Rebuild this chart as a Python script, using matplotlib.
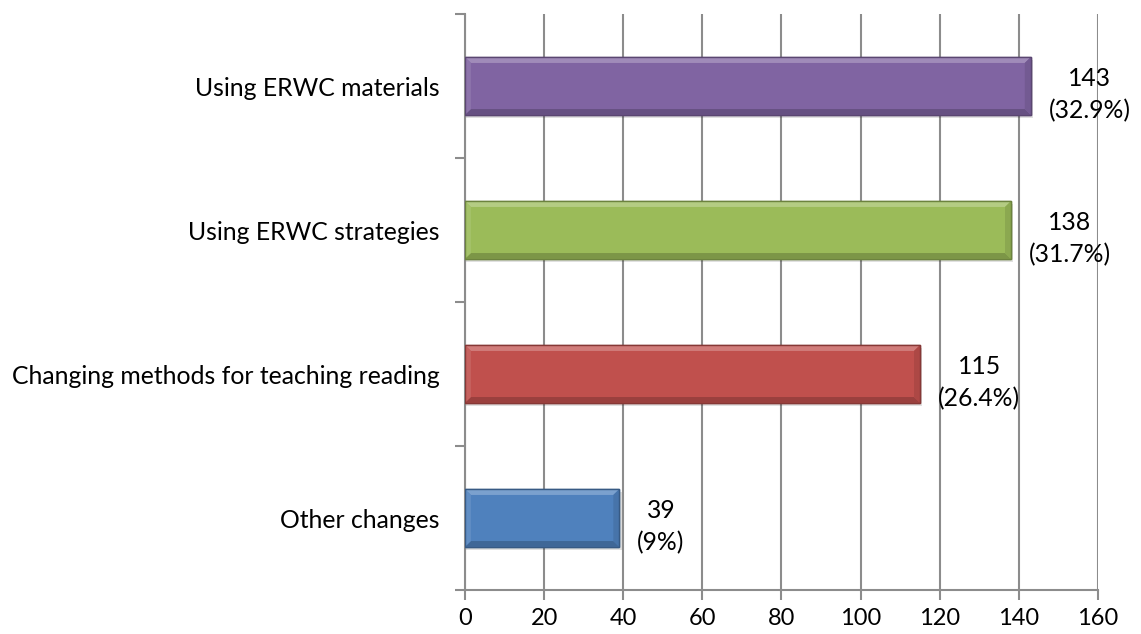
import matplotlib.pyplot as plt
from matplotlib.patches import Polygon, Rectangle
import matplotlib.colors as mcolors

categories = ["Other changes", "Changing methods for teaching reading",
              "Using ERWC strategies", "Using ERWC materials"]
counts = [39, 115, 138, 143]
percents = ["9%", "26.4%", "31.7%", "32.9%"]
colors = ["#4F81BD", "#C0504D", "#9BBB59", "#8064A2"]
xticks = [0, 20, 40, 60, 80, 100, 120, 140, 160]

plt.rcParams['font.family'] = ['Lato', 'DejaVu Sans']

fig = plt.figure(figsize=(11.41, 6.34), dpi=100)
ax = fig.add_axes([0.4075, 0.0694, 0.5548, 0.9085])

bar_h = 0.4
grid_c = "#8C8C8C"
fs = 17.8


def shade(c, f):
    r, g, b = mcolors.to_rgb(c)
    if f > 0:
        return (r + (1 - r) * f, g + (1 - g) * f, b + (1 - b) * f)
    return (r * (1 + f), g * (1 + f), b * (1 + f))


for i, (v, c) in enumerate(zip(counts, colors)):
    y0 = i - bar_h / 2
    y1 = i + bar_h / 2
    dx = 1.5
    dy = 0.04
    # shadow
    ax.add_patch(Rectangle((0, y0 - 0.02), v + 0.6, bar_h, color="#000000",
                           alpha=0.12, zorder=2, lw=0))
    ax.add_patch(Rectangle((0, y0), v, bar_h, facecolor=c,
                           edgecolor=shade(c, -0.3), lw=1.0, zorder=3))
    # bevel edges
    ax.add_patch(Polygon([(0, y1), (v, y1), (v - dx, y1 - dy), (dx, y1 - dy)],
                         closed=True, color=shade(c, 0.25), lw=0, zorder=4))
    ax.add_patch(Polygon([(0, y0), (v, y0), (v - dx, y0 + dy), (dx, y0 + dy)],
                         closed=True, color=shade(c, -0.2), lw=0, zorder=4))
    ax.add_patch(Polygon([(v, y0), (v, y1), (v - dx, y1 - dy), (v - dx, y0 + dy)],
                         closed=True, color=shade(c, -0.1), lw=0, zorder=4))
    ax.add_patch(Polygon([(0, y0), (0, y1), (dx, y1 - dy), (dx, y0 + dy)],
                         closed=True, color=shade(c, 0.1), lw=0, zorder=4))
    ax.add_patch(Rectangle((0, y0), v, bar_h, facecolor="none",
                           edgecolor=shade(c, -0.3), lw=1.0, zorder=5))
    ax.annotate("%d\n(%s)" % (v, percents[i]), xy=(v, i), xytext=(13, -6),
                textcoords="offset points", ha="left", va="center",
                multialignment="center", fontsize=fs, color="#000000",
                zorder=6, linespacing=1.45)

ax.set_xlim(0, 160)
ax.set_ylim(-0.5, 3.5)
ax.set_xticks(xticks)
ax.set_yticks([i - 0.5 for i in range(5)])
ax.set_yticklabels([])
ax.set_yticks(range(4), minor=True)
ax.set_yticklabels(categories, minor=True)
ax.tick_params(axis="y", which="minor", length=0, pad=18, labelsize=fs)
ax.tick_params(axis="y", which="major", length=7, width=1.5, color=grid_c)
ax.tick_params(axis="x", length=7, width=1.5, color=grid_c, pad=6,
               labelsize=17)
ax.xaxis.grid(True, color=grid_c, lw=1.5)
ax.set_axisbelow(True)
for s in ["top", "right"]:
    ax.spines[s].set_visible(False)
for s in ["left", "bottom"]:
    ax.spines[s].set_color(grid_c)
    ax.spines[s].set_linewidth(1.5)

fig.savefig("out.png", dpi=100)
